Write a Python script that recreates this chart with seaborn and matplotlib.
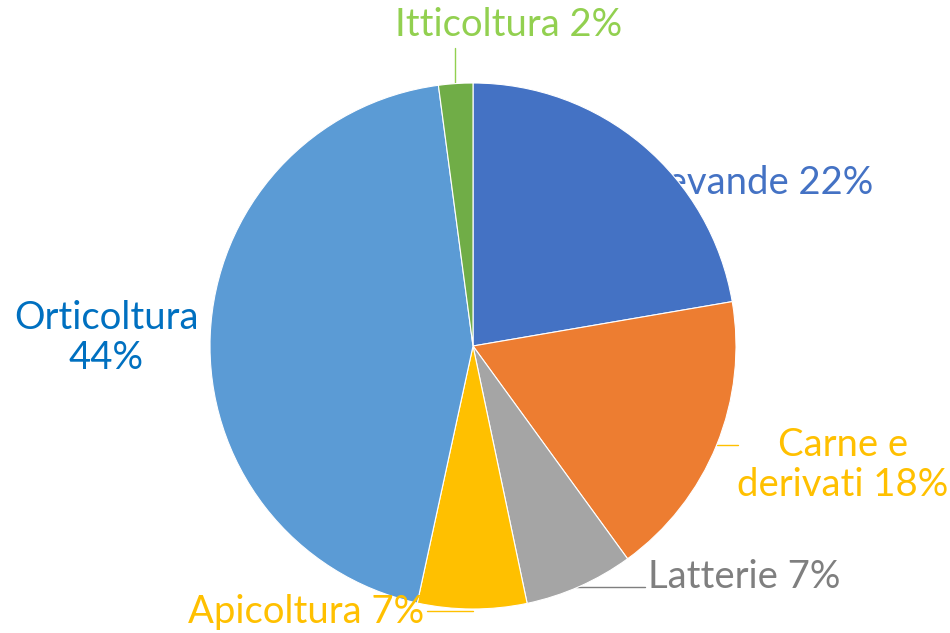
import matplotlib.pyplot as plt
import seaborn as sns

# slice data, clockwise from 12 o'clock
categories = ["Bevande", "Carne e\nderivati", "Latterie", "Apicoltura", "Orticoltura", "Itticoltura"]
shares = [22.3, 17.7, 6.7, 6.7, 44.5, 2.1]
pct_labels = ["22%", "18%", "7%", "7%", "44%", "2%"]
slice_colors = ["#4472C4", "#ED7D31", "#A5A5A5", "#FFC000", "#5B9BD5", "#70AD47"]
label_colors = ["#4472C4", "#FFC000", "#7F7F7F", "#FFC000", "#0070C0", "#92D050"]

sns.set_theme(style="white")
plt.rcParams['font.family'] = ['Lato', 'DejaVu Sans']

fig = plt.figure(figsize=(9.5, 6.33), dpi=100)
ax = fig.add_axes([0, 0, 1, 1])

H = 633
cx, cy, r = 473, H - 346, 263

ax.pie(shares, colors=slice_colors, startangle=90, counterclock=False,
       center=(cx, cy), radius=r, frame=True,
       wedgeprops=dict(edgecolor='white', linewidth=0.8, zorder=3))
ax.set_xlim(0, 950)
ax.set_ylim(0, 633)
ax.axis('off')

fs = 27.5
txt = [f"{c} {p}" for c, p in zip(categories, pct_labels)]

# label placement (pixel coords, y from top)
ax.text(873, H - 183, txt[0], color=label_colors[0], fontsize=fs, ha='right', va='center', zorder=1)
ax.text(843, H - 465, txt[1], color=label_colors[1], fontsize=fs, ha='center', va='center',
        linespacing=1.12, zorder=1)
ax.text(648, H - 577, txt[2], color=label_colors[2], fontsize=fs, ha='left', va='center', zorder=1)
ax.text(306, H - 612, txt[3], color=label_colors[3], fontsize=fs, ha='center', va='center', zorder=4)
ax.text(106, H - 338, f"{categories[4]}\n{pct_labels[4]}", color=label_colors[4], fontsize=fs,
        ha='center', va='center', linespacing=1.12, zorder=1)
ax.text(509, H - 25, txt[5], color=label_colors[5], fontsize=fs, ha='center', va='center', zorder=1)

# leader lines
ax.plot([455, 455], [H - 48, H - 86], color=label_colors[5], lw=1, zorder=2)
ax.plot([717, 738], [H - 445, H - 445], color=label_colors[1], lw=1, zorder=2)
ax.plot([576, 645], [H - 587, H - 587], color=label_colors[2], lw=1, zorder=2)
ax.plot([427, 473], [H - 611, H - 611], color=label_colors[3], lw=1, zorder=2)

fig.savefig("out.png", dpi=100, facecolor='white')
